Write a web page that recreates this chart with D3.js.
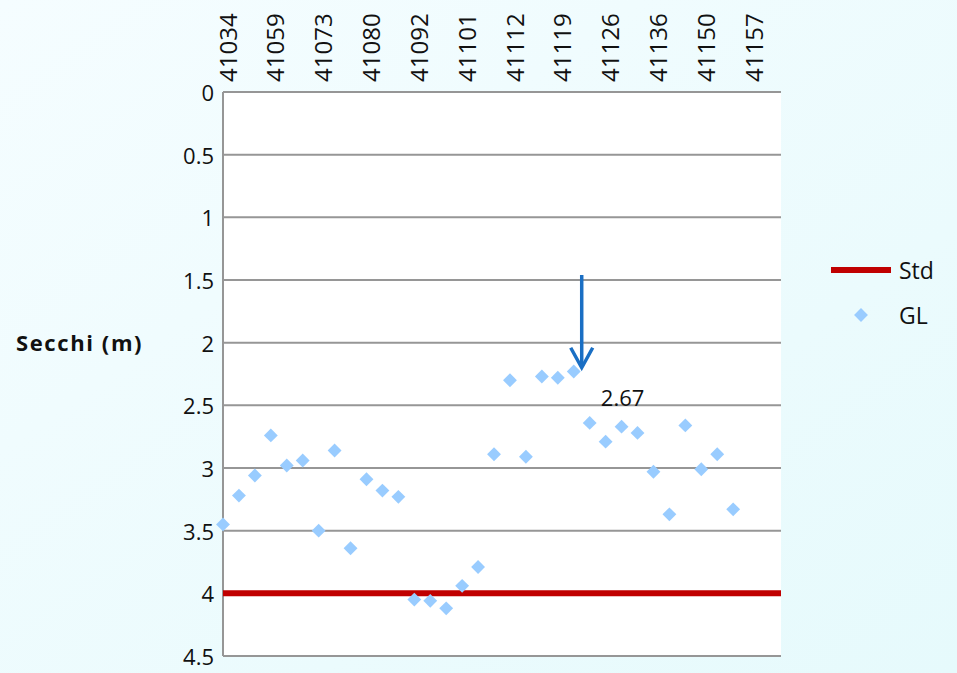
<!DOCTYPE html>
<html>
<head>
<meta charset="utf-8">
<script src="https://cdn.jsdelivr.net/npm/d3@7"></script>
<style>
  html, body { margin: 0; padding: 0; }
  body { width: 957px; height: 673px; overflow: hidden; }
  text { font-family: "Open Sans", Lato, sans-serif; fill: #111; }
</style>
</head>
<body>
<svg id="chart" width="957" height="673"></svg>
<script>
// Sampling dates (Excel serials), one label every third sampling
const tickLabels = ["41034", "41059", "41073", "41080", "41092", "41101",
                    "41112", "41119", "41126", "41136", "41150", "41157"];
const categoryCount = 36;
const labelEvery = 3;

// Secchi depth readings (m) for GL, one per sampling
const glValues = [3.45, 3.22, 3.06, 2.74, 2.98, 2.94, 3.50, 2.86, 3.64, 3.09, 3.18, 3.23,
                  4.05, 4.06, 4.12, 3.94, 3.79, 2.89, 2.30, 2.91, 2.27, 2.28, 2.23, 2.64,
                  2.79, 2.67, 2.72, 3.03, 3.37, 2.66, 3.01, 2.89, 3.33];

// Standard depth
const stdValue = 4;

// Y ticks
const yTicks = [0, 0.5, 1, 1.5, 2, 2.5, 3, 3.5, 4, 4.5];

// Labelled point and the arrow drawn above the series
const labelledIndex = 25;
const arrow = { category: 22.5, from: 1.46, to: 2.2 };

const svg = d3.select("#chart");
const W = 957, H = 673;
const plot = { left: 223, right: 781, top: 92, bottom: 656 };

// Background
const defs = svg.append("defs");
const grad = defs.append("linearGradient").attr("id", "bg")
  .attr("x1", "0").attr("y1", "0").attr("x2", "1").attr("y2", "1");
grad.append("stop").attr("offset", "0%").attr("stop-color", "#F5FDFF");
grad.append("stop").attr("offset", "100%").attr("stop-color", "#E6FAFC");
svg.append("rect").attr("width", W).attr("height", H).attr("fill", "url(#bg)");

const categories = d3.range(categoryCount);
const x = d3.scalePoint().domain(categories).range([plot.left, plot.right]);
const y = d3.scaleLinear().domain([0, 4.5]).range([plot.top, plot.bottom]);

// Plot area
svg.append("rect")
  .attr("x", plot.left).attr("y", plot.top)
  .attr("width", plot.right - plot.left).attr("height", plot.bottom - plot.top)
  .attr("fill", "#ffffff");

// Horizontal gridlines
svg.append("g").selectAll("line").data(yTicks).join("line")
  .attr("x1", plot.left).attr("x2", plot.right)
  .attr("y1", d => y(d)).attr("y2", d => y(d))
  .attr("stroke", "#969696").attr("stroke-width", 2);

// Left axis line
svg.append("line")
  .attr("x1", plot.left).attr("x2", plot.left)
  .attr("y1", plot.top).attr("y2", plot.bottom)
  .attr("stroke", "#969696").attr("stroke-width", 2);

// Y tick labels
const yAxis = d3.axisLeft(y).tickValues(yTicks).tickSize(0).tickPadding(9)
  .tickFormat(d => String(d));
const gy = svg.append("g").attr("transform", `translate(${plot.left},0)`).call(yAxis);
gy.select(".domain").remove();
gy.selectAll("text").style("font-family", "'Open Sans', sans-serif")
  .style("font-size", "22px").attr("fill", "#111").attr("dy", "0.38em");

// X tick labels along the top, rotated
const labelled = categories.filter(i => i % labelEvery === 0);
svg.append("g").selectAll("text").data(labelled).join("text")
  .attr("transform", i => `translate(${x(i) + 5},${plot.top - 10}) rotate(-90)`)
  .attr("text-anchor", "start")
  .attr("dy", "0.36em")
  .style("font-size", "24px")
  .text((i, k) => tickLabels[k]);

// Y axis title
svg.append("text")
  .attr("x", 16).attr("y", y(2) + 8)
  .style("font-size", "22px").style("font-weight", "bold")
  .style("letter-spacing", "1.6px")
  .text("Secchi (m)");

// Standard line
svg.append("line")
  .attr("x1", x(0)).attr("x2", x(categoryCount - 1))
  .attr("y1", y(stdValue)).attr("y2", y(stdValue))
  .attr("stroke", "#C00000").attr("stroke-width", 6);

// GL markers
const diamond = d3.symbol().type(d3.symbolSquare).size(96);
svg.append("g").selectAll("path").data(glValues).join("path")
  .attr("d", diamond)
  .attr("transform", (d, i) => `translate(${x(i)},${y(d)}) rotate(45)`)
  .attr("fill", "#99CCFF");

// Data label
svg.append("text")
  .attr("x", x(labelledIndex) + 1).attr("y", y(glValues[labelledIndex]) - 21)
  .attr("text-anchor", "middle")
  .style("font-size", "22px")
  .text(glValues[labelledIndex].toFixed(2));

// Arrow annotation
const ax = x(0) + (x(1) - x(0)) * arrow.category;
const aTop = y(arrow.from), aTip = y(arrow.to);
const ag = svg.append("g").attr("stroke", "#1A6FC4").attr("stroke-width", 3.5)
  .attr("fill", "none");
ag.append("line").attr("x1", ax).attr("x2", ax).attr("y1", aTop).attr("y2", aTip - 3);
ag.append("path")
  .attr("d", `M${ax - 11},${aTip - 20} L${ax},${aTip} L${ax + 11},${aTip - 20}`);

// Legend
const lg = svg.append("g");
lg.append("line").attr("x1", 831).attr("x2", 891).attr("y1", 270).attr("y2", 270)
  .attr("stroke", "#C00000").attr("stroke-width", 6);
lg.append("text").attr("x", 899).attr("y", 279).style("font-size", "23px").text("Std");
lg.append("path").attr("d", diamond)
  .attr("transform", "translate(861,315) rotate(45)").attr("fill", "#99CCFF");
lg.append("text").attr("x", 899).attr("y", 324).style("font-size", "23px").text("GL");
</script>
</body>
</html>
